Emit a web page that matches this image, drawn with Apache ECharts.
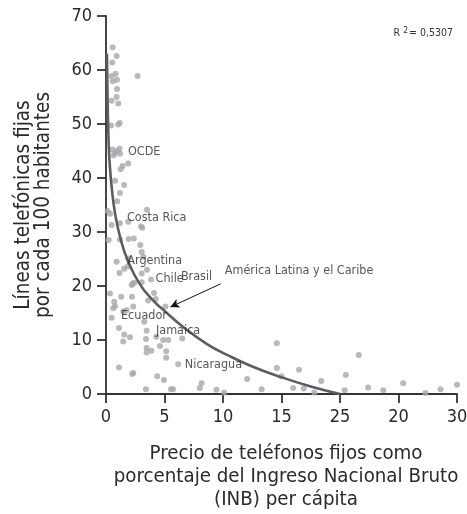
<!DOCTYPE html>
<html>
<head>
<meta charset="utf-8">
<script src="https://cdn.jsdelivr.net/npm/echarts@6/dist/echarts.min.js"></script>
<style>
  html, body { margin: 0; padding: 0; background: #fff; }
  #chart { width: 467px; height: 514px; }
</style>
</head>
<body>
<div id="chart"></div>
<script>
// precio (% INB per cápita) y líneas fijas por cada 100 habitantes
var precio = [
  0.57, 0.91, 0.54, 0.48, 0.83, 0.94, 0.57, 2.7, 0.94, 0.48, 0.91, 1.05, 0.43, 1.05, 1.17,
  0.55, 0.75, 0.95, 1.15, 1.2, 0.65, 1.9, 1.42, 1.25, 0.77, 1.55, 1.19, 0.95, 0.14, 0.35,
  3.5, 1.19, 0.48, 1.9, 3.0, 3.1, 0.22, 1.19, 1.93, 2.38, 2.93, 3.05, 3.19, 0.91, 1.9,
  1.55, 1.85, 1.15, 3.5, 3.05, 3.85, 2.28, 2.2, 2.42, 3.05, 0.34, 1.3, 2.22, 4.1, 4.25,
  3.6, 0.7, 0.77, 0.62, 1.77, 1.48, 2.33, 5.08, 0.48, 3.27, 1.11, 3.47, 1.56, 2.05, 1.47,
  3.42, 4.3, 4.89, 5.32, 6.52, 3.47, 3.47, 3.88, 4.61, 5.15, 5.15, 6.17, 1.11, 2.33, 2.25,
  4.38, 4.95, 8.17, 8.02, 3.41, 5.55, 5.74, 9.44, 10.1, 12.06, 13.3, 14.6, 14.6, 15.0, 16.5,
  16.0, 16.9, 17.8, 18.4, 20.4, 20.5, 21.6, 22.4, 23.7, 25.4, 27.3, 28.6, 30.0
];
var lineas = [
  64.2, 62.6, 61.4, 58.9, 59.3, 58.2, 57.9, 58.9, 56.5, 54.3, 55.0, 53.8, 49.7, 49.9, 50.2,
  45.3, 44.6, 45.0, 45.4, 44.5, 44.2, 42.7, 42.2, 41.6, 39.5, 38.7, 37.2, 35.7, 33.9, 33.4,
  34.1, 31.6, 31.3, 31.9, 31.0, 30.8, 28.5, 28.6, 28.7, 28.8, 27.6, 26.3, 25.4, 24.5, 25.1,
  23.2, 23.6, 22.4, 23.0, 22.3, 21.2, 20.4, 20.2, 20.6, 20.7, 18.6, 18.0, 18.0, 18.7, 17.6,
  17.3, 17.1, 16.3, 15.9, 15.5, 15.3, 16.2, 16.2, 14.1, 13.4, 12.2, 11.7, 11.0, 10.5, 9.7,
  10.2, 10.6, 10.0, 10.0, 10.3, 8.5, 7.7, 8.0, 8.9, 7.9, 6.7, 5.5, 4.9, 3.9, 3.7,
  3.3, 2.6, 2.0, 1.1, 0.9, 0.9, 0.9, 0.8, 0.3, 2.8, 0.9, 9.4, 4.8, 3.3, 4.5,
  1.1, 1.0, 0.3, 2.4, 0.7, 3.5, 7.2, 1.2, 0.7, 2.0, 0.2, 0.9, 1.7
];

// curva de tendencia, puntos leídos a lo largo de la línea
var curvaX = [0.08, 0.14, 0.22, 0.32, 0.5, 0.77, 1.25, 1.9, 2.9, 4.0, 5.2, 6.6, 8.6, 10.4, 12.5, 15.0, 17.5, 20.0];
var curvaY = [63, 54, 47, 42.5, 38, 33.5, 28.7, 24.5, 20.3, 17.4, 15.0, 12.4, 9.3, 7.2, 5.1, 3.1, 1.4, 0];

// etiquetas de países / regiones (posición del inicio del texto)
var etiquetas = ['OCDE', 'Costa Rica', 'Argentina', 'Chile', 'Brasil', 'Ecuador', 'Jamaica', 'Nicaragua', 'América Latina y el Caribe'];
var etiquetaX = [1.88, 1.79, 1.82, 4.24, 6.4, 1.28, 4.27, 6.74, 10.15];
var etiquetaY = [44.8, 32.6, 24.7, 21.4, 21.8, 14.4, 11.7, 5.4, 22.8];

// flecha de "América Latina y el Caribe" hacia la curva
var flechaDesde = [9.8, 20.4];
var flechaHasta = [5.5, 16.1];

var xTickLabels = ['0', '5', '10', '15', '25', '20', '30'];
var yTickLabels = ['0', '10', '20', '30', '40', '50', '60', '70'];

var fuente = "'DejaVu Sans Condensed', 'Liberation Sans Narrow', sans-serif";

var myChart = echarts.init(document.getElementById('chart'));

var puntos = precio.map(function (x, i) { return [x, lineas[i]]; });
var curva = curvaX.map(function (x, i) { return [x, curvaY[i]]; });
var marcas = etiquetas.map(function (n, i) { return { name: n, value: [etiquetaX[i], etiquetaY[i]] }; });

var option = {
  animation: false,
  backgroundColor: '#fff',
  textStyle: { fontFamily: fuente },
  title: {
    text: '{r|R }{s|2}{r|= 0,5307}',
    right: 9,
    top: 21,
    textStyle: {
      fontWeight: 'normal',
      rich: {
        r: { fontFamily: fuente, fontSize: 10.5, color: '#333', fontWeight: 'normal' },
        s: { fontFamily: fuente, fontSize: 8.5, color: '#333', fontWeight: 'normal', verticalAlign: 'top', padding: [0, 1, 6, 0] }
      }
    }
  },
  grid: { left: 106, right: 10, top: 16, bottom: 120, containLabel: false, outerBoundsMode: 'none' },
  xAxis: {
    type: 'value',
    min: 0,
    max: 30,
    interval: 5,
    name: 'Precio de teléfonos fijos como\nporcentaje del Ingreso Nacional Bruto\n(INB) per cápita',
    nameLocation: 'middle',
    nameGap: 48,
    nameTextStyle: { fontFamily: fuente, fontSize: 20.3, lineHeight: 23, color: '#2a2a2a', padding: [0, 0, 0, 9] },
    axisLine: { lineStyle: { color: '#333', width: 1.8 } },
    axisTick: { length: 9, lineStyle: { color: '#333', width: 1.8 } },
    axisLabel: {
      margin: 14,
      fontSize: 18,
      color: '#2a2a2a',
      fontFamily: fuente,
      formatter: function (v) { return xTickLabels[Math.round(v / 5)]; }
    },
    splitLine: { show: false }
  },
  yAxis: {
    type: 'value',
    min: 0,
    max: 70,
    interval: 10,
    name: 'Líneas telefónicas fijas\npor cada 100 habitantes',
    nameLocation: 'middle',
    nameRotate: 90,
    nameGap: 52,
    nameTextStyle: { fontFamily: fuente, fontSize: 20.5, lineHeight: 20, color: '#2a2a2a' },
    axisLine: { show: true, lineStyle: { color: '#333', width: 1.8 } },
    axisTick: { show: true, length: 9, lineStyle: { color: '#333', width: 1.8 } },
    axisLabel: {
      margin: 14,
      fontSize: 18,
      color: '#2a2a2a',
      fontFamily: fuente,
      formatter: function (v) { return yTickLabels[Math.round(v / 10)]; }
    },
    splitLine: { show: false }
  },
  series: [
    {
      name: 'países',
      type: 'scatter',
      data: puntos,
      symbolSize: 6,
      itemStyle: { color: '#a8a8ab' },
      z: 2
    },
    {
      name: 'tendencia',
      type: 'line',
      data: curva,
      smooth: 0.5,
      showSymbol: false,
      symbol: 'none',
      lineStyle: { color: '#5d5d60', width: 2.6 },
      z: 3
    },
    {
      name: 'etiquetas',
      type: 'scatter',
      data: marcas,
      symbolSize: 0,
      silent: true,
      label: {
        show: true,
        position: 'right',
        distance: 0,
        formatter: '{b}',
        fontFamily: fuente,
        fontSize: 12.5,
        color: '#2a2a2a'
      },
      markLine: {
        silent: true,
        symbol: ['none', 'arrow'],
        symbolSize: [7, 9],
        label: { show: false },
        lineStyle: { color: '#111', width: 1, type: 'solid' },
        data: [[{ coord: flechaDesde }, { coord: flechaHasta }]]
      },
      z: 4
    }
  ]
};

myChart.setOption(option, true);
</script>
</body>
</html>
